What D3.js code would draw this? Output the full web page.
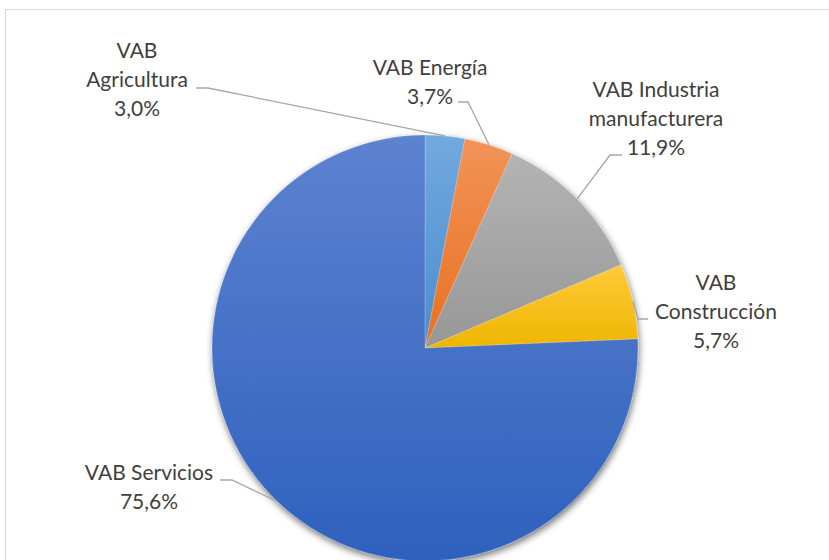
<!DOCTYPE html>
<html>
<head>
<meta charset="utf-8">
<script src="https://cdn.jsdelivr.net/npm/d3@7"></script>
<style>
  html, body { margin: 0; padding: 0; background: #fff; }
  svg { display: block; }
  text { font-family: Lato, "Open Sans", sans-serif; }
</style>
</head>
<body>
<svg id="chart" width="829" height="560"></svg>
<script>
// Sector shares of gross value added (VAB), percent
const sectors = ["VAB Agricultura", "VAB Energía", "VAB Industria manufacturera", "VAB Construcción", "VAB Servicios"];
const shares = [3.0, 3.7, 11.9, 5.7, 75.6];
// Label lines as printed
const labelLines = [
  ["VAB", "Agricultura"],
  ["VAB Energía"],
  ["VAB Industria", "manufacturera"],
  ["VAB", "Construcción"],
  ["VAB Servicios"]
];

// Slice colours: [top, bottom] of the vertical gradient
const sliceColors = [
  ["#72a9de", "#4b8ccf"],
  ["#f29358", "#e8701f"],
  ["#b4b4b4", "#979797"],
  ["#ffca3c", "#efb500"],
  ["#5d82d0", "#2e61bd"]
];

// Label layout: text centre x, first baseline y, leader elbow and end
const labelLayout = [
  { x: 137, y: 58, elbow: [208, 88], end: [196, 88] },
  { x: 430, y: 75, elbow: [468, 102], end: [458, 102] },
  { x: 656, y: 97, elbow: [610, 155], end: [622, 155] },
  { x: 716, y: 290, elbow: [638, 319], end: [648, 319] },
  { x: 149, y: 480, elbow: [232, 480], end: [220, 480] }
];

const cx = 425, cy = 348, R = 213;
const lineH = 29;

const svg = d3.select("#chart");
const defs = svg.append("defs");

// chart frame
svg.append("rect")
  .attr("x", 5.5).attr("y", 9.5)
  .attr("width", 900).attr("height", 700)
  .attr("fill", "#fff")
  .attr("stroke", "#d9d9d9").attr("stroke-width", 1);

// drop shadow under the pie
const shadow = defs.append("filter").attr("id", "pieShadow")
  .attr("x", "-20%").attr("y", "-20%").attr("width", "140%").attr("height", "140%");
shadow.append("feDropShadow")
  .attr("dx", 1).attr("dy", 3).attr("stdDeviation", 3.5)
  .attr("flood-color", "#000").attr("flood-opacity", 0.55);

sliceColors.forEach((c, i) => {
  const g = defs.append("linearGradient").attr("id", "grad" + i)
    .attr("x1", 0).attr("y1", 0).attr("x2", 0).attr("y2", 1);
  g.append("stop").attr("offset", "0%").attr("stop-color", c[0]);
  g.append("stop").attr("offset", "100%").attr("stop-color", c[1]);
});

const data = sectors.map((s, i) => ({ name: s, value: shares[i], i }));

const pie = d3.pie().value(d => d.value).sort(null);
const arcs = pie(data);
const arc = d3.arc().innerRadius(0).outerRadius(R);

const pieG = svg.append("g")
  .attr("transform", `translate(${cx},${cy})`)
  .attr("filter", "url(#pieShadow)");

pieG.selectAll("path")
  .data(arcs)
  .join("path")
  .attr("d", arc)
  .attr("fill", d => `url(#grad${d.data.i})`)
  .attr("stroke", "rgba(255,255,255,0.35)")
  .attr("stroke-width", 0.6);

// leader lines: from slice mid-angle on the rim to the elbow, then to the label
const fmt = v => d3.format(".1f")(v).replace(".", ",") + "%";

arcs.forEach((a, k) => {
  const L = labelLayout[k];
  const mid = (a.startAngle + a.endAngle) / 2;
  const px = cx + R * Math.sin(mid);
  const py = cy - R * Math.cos(mid);
  svg.append("polyline")
    .attr("points", [[px, py], L.elbow, L.end].map(p => p.join(",")).join(" "))
    .attr("fill", "none")
    .attr("stroke", "#a6a6a6")
    .attr("stroke-width", 1.3);

  const lines = labelLines[k].concat([fmt(a.data.value)]);
  const t = svg.append("text")
    .attr("text-anchor", "middle")
    .attr("fill", "#404040")
    .attr("font-size", 21);
  lines.forEach((ln, j) => {
    t.append("tspan")
      .attr("x", L.x)
      .attr("y", L.y + j * lineH)
      .text(ln);
  });
});
</script>
</body>
</html>
